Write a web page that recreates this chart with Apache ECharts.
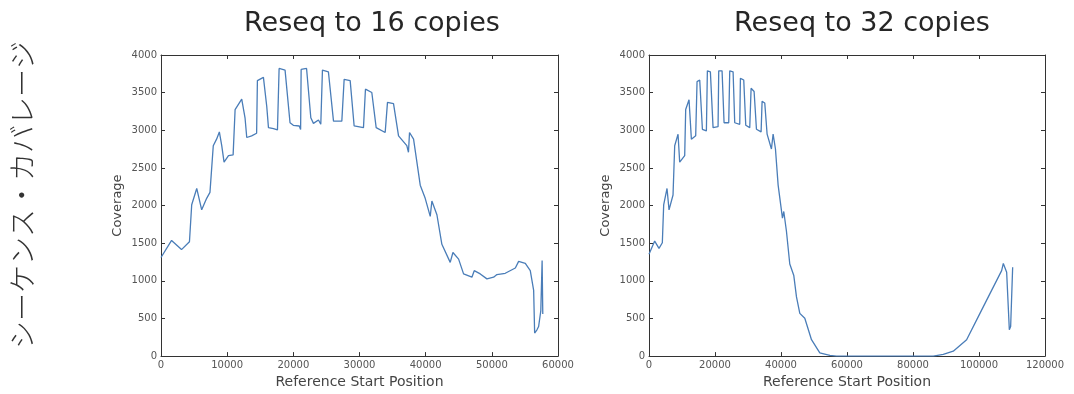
<!DOCTYPE html>
<html><head><meta charset="utf-8">
<script src="https://cdn.jsdelivr.net/npm/echarts@6/dist/echarts.min.js"></script>
<style>html,body{margin:0;padding:0;background:#fff}#c{width:1074px;height:394px}</style>
</head><body><div id="c"></div>
<script>
const titles = ["Reseq to 16 copies", "Reseq to 32 copies"];
const sideLabel = "シーケンス・カバレージ";
const yName = "Coverage";
const xName = "Reference Start Position";

// Left: Reseq to 16 copies [position, coverage]
const pos16 = [0,1600,3100,4300,4640,5400,6150,6900,7400,7900,8400,8820,9180,9530,10200,10900,11200,12200,12700,12960,13700,14450,14570,15480,15980,16240,17000,17600,17850,18750,19500,20000,20900,21100,21180,22000,22640,23040,23800,24150,24400,25300,26070,27330,27680,28590,29190,30600,30900,31860,32520,33880,34230,35140,35900,37150,37400,37560,38170,39180,39930,40690,40940,41700,42450,43710,44120,44980,45730,46990,47340,48250,49260,50270,50770,52030,53550,54050,55060,55810,56320,56470,56820,57070,57400,57600,57700];
const cov16 = [1310,1537,1415,1520,2010,2227,1943,2096,2175,2795,2882,2978,2795,2576,2664,2673,3275,3415,3166,2904,2926,2961,3660,3703,3319,3035,3022,3004,3821,3799,3100,3066,3057,3010,3808,3821,3166,3092,3136,3080,3799,3777,3122,3122,3677,3660,3057,3035,3546,3502,3035,2970,3371,3354,2926,2795,2708,2970,2882,2271,2096,1856,2061,1878,1485,1245,1376,1288,1092,1048,1135,1092,1026,1048,1083,1100,1170,1258,1231,1135,873,306,349,393,600,1270,560];

// Right: Reseq to 32 copies
const pos32 = [0,1720,3030,4040,4450,5460,6070,7280,7790,8800,9300,10820,11120,12130,12840,14150,14560,15370,16180,17390,17690,18600,19410,20930,21130,22140,22750,24160,24470,25480,25980,27500,27700,28710,29320,30530,30940,31850,32560,33970,34270,35080,35790,37100,37610,38320,39130,40440,40840,41650,42660,43880,44690,45700,47210,49240,51760,54800,56820,86140,89170,92200,96250,100290,103320,106860,107370,107870,108380,109190,109590,110200];
const cov32 = [1354,1528,1432,1506,2009,2227,1943,2140,2795,2948,2576,2664,3275,3406,2882,2926,3646,3668,3013,2991,3790,3777,3035,3048,3790,3790,3100,3100,3790,3777,3100,3079,3690,3668,3066,3035,3559,3515,3013,2978,3384,3363,2948,2751,2948,2751,2271,1834,1921,1659,1223,1070,786,568,502,218,44,9,0,0,22,66,218,568,830,1135,1231,1223,1113,349,393,1179];

const xMax = [60000, 120000];
const xInterval = [10000, 20000];
const yTicks = {min: 0, max: 4000, interval: 500};

const pairs = (xs, ys) => xs.map((x, i) => [x, ys[i]]);
const grids = [
  {left: 161, right: 516, top: 55, bottom: 34},
  {left: 649, right: 29, top: 55, bottom: 34}
];
const lineColor = '#4a7db8';
const txt = '#555';
const plain = v => String(v);

function xAx(i, mirror){
  return {type:'value', gridIndex:i, min:0, max:xMax[i], interval:xInterval[i],
    position: mirror ? 'top' : 'bottom',
    name: mirror ? '' : xName, nameLocation:'middle', nameGap:16,
    nameTextStyle:{fontFamily:'DejaVu Sans', fontSize:14, color:'#444'},
    axisLine:{show:true, onZero:false, lineStyle:{color:'#333', width:1}},
    axisTick:{show:true, inside:true, length:4, lineStyle:{color:'#333'}},
    axisLabel:{show:!mirror, formatter:plain, fontFamily:'DejaVu Sans', fontSize:10, color:txt, margin:4},
    splitLine:{show:false}};
}
function yAx(i, mirror){
  return {type:'value', gridIndex:i, min:yTicks.min, max:yTicks.max, interval:yTicks.interval,
    position: mirror ? 'right' : 'left',
    name: mirror ? '' : yName, nameLocation:'middle', nameGap:37,
    nameTextStyle:{fontFamily:'DejaVu Sans', fontSize:13, color:'#444'},
    axisLine:{show:true, onZero:false, lineStyle:{color:'#333', width:1}},
    axisTick:{show:true, inside:true, length:4, lineStyle:{color:'#333'}},
    axisLabel:{show:!mirror, formatter:plain, fontFamily:'DejaVu Sans', fontSize:10, color:txt, margin:4},
    splitLine:{show:false}};
}

const chart = echarts.init(document.getElementById('c'), null, {renderer:'canvas'});
chart.setOption({
  animation:false,
  backgroundColor:'#fff',
  title: [
    {text:titles[0], left:367, top:5, textAlign:'center', textStyle:{fontFamily:'DejaVu Sans', fontWeight:'normal', fontSize:27, color:'#262626'}},
    {text:titles[1], left:857, top:5, textAlign:'center', textStyle:{fontFamily:'DejaVu Sans', fontWeight:'normal', fontSize:27, color:'#262626'}}
  ],
  graphic: [{
    type:'text', x:22, y:195, rotation:Math.PI/2,
    style:{text:sideLabel, fill:'#333', font:'300 28px "Noto Sans CJK JP"', align:'center', verticalAlign:'middle'}
  }],
  grid: grids,
  xAxis: [xAx(0,false), xAx(1,false), xAx(0,true), xAx(1,true)],
  yAxis: [yAx(0,false), yAx(1,false), yAx(0,true), yAx(1,true)],
  series: [
    {type:'line', xAxisIndex:0, yAxisIndex:0, data:pairs(pos16, cov16), showSymbol:false, lineStyle:{color:lineColor, width:1.3}},
    {type:'line', xAxisIndex:1, yAxisIndex:1, data:pairs(pos32, cov32), showSymbol:false, lineStyle:{color:lineColor, width:1.3}}
  ]
});
</script></body></html>
